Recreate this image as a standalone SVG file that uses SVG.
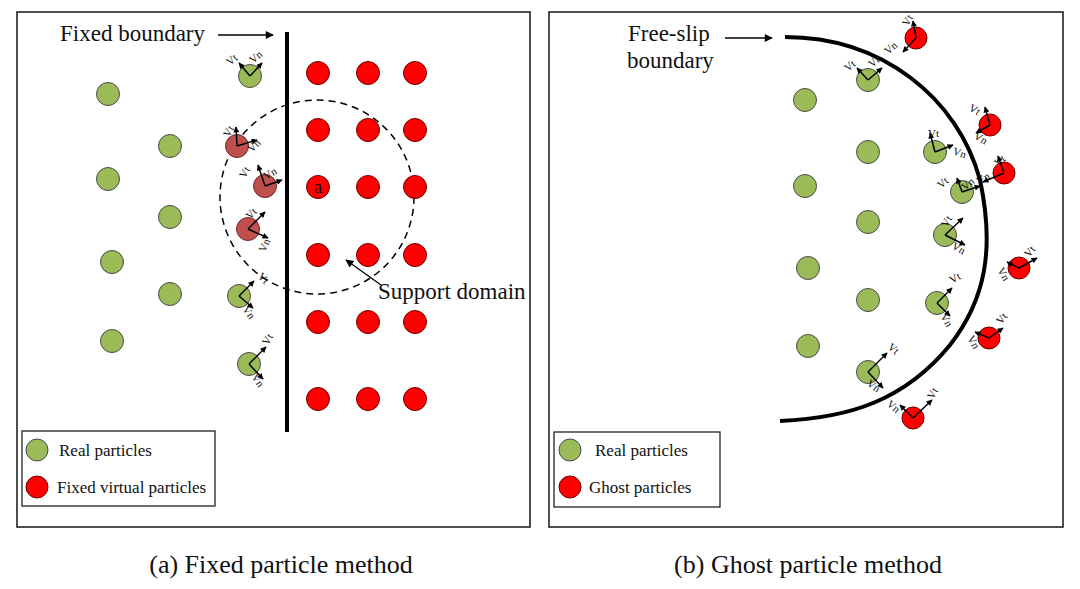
<svg xmlns="http://www.w3.org/2000/svg" width="1080" height="589" viewBox="0 0 1080 589">
<style>
.panel{fill:#fff;stroke:#222;stroke-width:1.6}
.g{fill:#9bbb59;stroke:#4a4a4a;stroke-width:1}
.r{fill:#ff0000;stroke:#6a0000;stroke-width:1}
.b{fill:#c0504d;stroke:#6a2a28;stroke-width:1}
.t{font-family:"Liberation Serif",serif;fill:#111}
.lbl{font-size:23px}
.leg{font-size:17px}
.cap{font-size:26px}
.v{font-family:"Liberation Serif",serif;font-size:11px;fill:#111}
.vec{stroke:#000;stroke-width:1.5;fill:none;marker-end:url(#ah)}
.ptr{stroke:#000;stroke-width:1.3;fill:none;marker-end:url(#ah2)}
.bd{stroke:#000;stroke-width:4;fill:none}
</style>
<defs>
<marker id="ah" viewBox="0 0 10 10" refX="9" refY="5" markerWidth="7" markerHeight="6" markerUnits="userSpaceOnUse" orient="auto"><path d="M0,0 L10,5 L0,10 z" fill="#000"/></marker>
<marker id="ah2" viewBox="0 0 10 10" refX="9" refY="5" markerWidth="9" markerHeight="8" markerUnits="userSpaceOnUse" orient="auto"><path d="M0,0 L10,5 L0,10 z" fill="#000"/></marker>
</defs>
<rect width="1080" height="589" fill="#fff"/>
<rect class="panel" x="17" y="12" width="513" height="515"/>
<rect class="panel" x="549" y="12" width="514" height="515"/>

<!-- Left panel -->
<g id="fixed-boundary">
<line class="bd" x1="287" y1="32" x2="287" y2="432"/>
<text class="t lbl" x="60" y="41">Fixed boundary</text>
</g>
<g id="support-domain">
<circle cx="317" cy="197" r="97" fill="none" stroke="#000" stroke-width="1.5" stroke-dasharray="7,5"/>
<text class="t lbl" x="378" y="299">Support domain</text>
</g>
<g id="virtual-particles">
<circle class="r" cx="318" cy="73" r="11.5"/><circle class="r" cx="368" cy="73" r="11.5"/><circle class="r" cx="415" cy="73" r="11.5"/>
<circle class="r" cx="318" cy="130" r="11.5"/><circle class="r" cx="368" cy="130" r="11.5"/><circle class="r" cx="415" cy="130" r="11.5"/>
<circle class="r" cx="318" cy="187" r="11.5"/><circle class="r" cx="368" cy="187" r="11.5"/><circle class="r" cx="415" cy="187" r="11.5"/>
<circle class="r" cx="318" cy="255" r="11.5"/><circle class="r" cx="368" cy="255" r="11.5"/><circle class="r" cx="415" cy="255" r="11.5"/>
<circle class="r" cx="318" cy="322" r="11.5"/><circle class="r" cx="368" cy="322" r="11.5"/><circle class="r" cx="415" cy="322" r="11.5"/>
<circle class="r" cx="318" cy="399" r="11.5"/><circle class="r" cx="368" cy="399" r="11.5"/><circle class="r" cx="415" cy="399" r="11.5"/>
<text class="t" x="318" y="193" font-size="19" text-anchor="middle">a</text>
</g>
<g id="real-particles-left">
<circle class="g" cx="108" cy="94" r="11.5"/><circle class="g" cx="108" cy="179" r="11.5"/>
<circle class="g" cx="112" cy="262" r="11.5"/><circle class="g" cx="112" cy="341" r="11.5"/>
<circle class="g" cx="170" cy="146" r="11.5"/><circle class="g" cx="170" cy="217" r="11.5"/><circle class="g" cx="170" cy="294" r="11.5"/>
<circle class="g" cx="250" cy="76" r="11.5"/><circle class="g" cx="239" cy="296" r="11.5"/><circle class="g" cx="249" cy="364" r="11.5"/>
<circle class="b" cx="237" cy="146" r="11.5"/><circle class="b" cx="265" cy="186" r="11.5"/><circle class="b" cx="248" cy="229" r="11.5"/>
</g>
<g id="vectors-left">
<line class="vec" x1="250" y1="76" x2="239" y2="63"/><line class="vec" x1="250" y1="76" x2="262" y2="63"/>
<text class="v" transform="translate(230,66) rotate(-40)">Vt</text><text class="v" transform="translate(253,64) rotate(-40)">Vn</text>
<line class="vec" x1="237" y1="146" x2="236" y2="127"/><line class="vec" x1="237" y1="146" x2="257" y2="140"/>
<text class="v" transform="translate(229,138) rotate(-60)">Vt</text><text class="v" transform="translate(252,153) rotate(-45)">Vn</text>
<line class="vec" x1="265" y1="186" x2="258" y2="165"/><line class="vec" x1="265" y1="186" x2="282" y2="180"/>
<text class="v" transform="translate(245,179) rotate(-60)">Vt</text><text class="v" transform="translate(266,180) rotate(-30)">Vn</text>
<line class="vec" x1="248" y1="229" x2="265" y2="212"/><line class="vec" x1="248" y1="229" x2="268" y2="238"/>
<text class="v" transform="translate(250,220) rotate(-45)">Vt</text><text class="v" transform="translate(265,253) rotate(-65)">Vn</text>
<line class="vec" x1="239" y1="296" x2="254" y2="281"/><line class="vec" x1="239" y1="296" x2="253" y2="308"/>
<text class="v" transform="translate(257,277) rotate(45)">Vt</text><text class="v" transform="translate(242,309) rotate(55)">Vn</text>
<line class="vec" x1="249" y1="364" x2="266" y2="347"/><line class="vec" x1="249" y1="364" x2="263" y2="379"/>
<text class="v" transform="translate(268,346) rotate(-60)">Vt</text><text class="v" transform="translate(251,377) rotate(55)">Vn</text>
</g>
<g id="connectors">
<line class="ptr" x1="218" y1="35" x2="273" y2="35"/>
<line class="ptr" x1="381" y1="285" x2="346" y2="260"/>
<line class="ptr" x1="725" y1="38" x2="772" y2="38"/>
</g>
<g id="legend-left">
<rect x="22" y="431" width="193" height="75" fill="#fff" stroke="#222" stroke-width="1.3"/>
<circle class="g" cx="37" cy="450" r="11"/>
<text class="t leg" x="59" y="456">Real particles</text>
<circle class="r" cx="37" cy="487" r="11"/>
<text class="t leg" x="57" y="493">Fixed virtual particles</text>
</g>
<text class="t cap" x="281" y="573" text-anchor="middle">(a) Fixed particle method</text>

<!-- Right panel -->
<g id="free-slip-boundary">
<path class="bd" d="M785,37 C882,37 958,98 980,180 C995,250 985,300 950,345 C905,400 850,418 780,421"/>
<text class="t lbl" x="628" y="41">Free-slip</text>
<text class="t lbl" x="627" y="68">boundary</text>
</g>
<g id="real-particles-right">
<circle class="g" cx="805" cy="100" r="11.5"/><circle class="g" cx="805" cy="186" r="11.5"/>
<circle class="g" cx="808" cy="268" r="11.5"/><circle class="g" cx="808" cy="346" r="11.5"/>
<circle class="g" cx="868" cy="80" r="11.5"/><circle class="g" cx="868" cy="152" r="11.5"/>
<circle class="g" cx="868" cy="222" r="11.5"/><circle class="g" cx="868" cy="300" r="11.5"/>
<circle class="g" cx="868" cy="372" r="11.5"/>
<circle class="g" cx="935" cy="152" r="11.5"/><circle class="g" cx="962" cy="192" r="11.5"/>
<circle class="g" cx="945" cy="235" r="11.5"/><circle class="g" cx="937" cy="303" r="11.5"/>
</g>
<g id="ghost-particles">
<circle class="r" cx="916" cy="38" r="11"/><circle class="r" cx="990" cy="125" r="11"/>
<circle class="r" cx="1004" cy="173" r="11"/><circle class="r" cx="1019" cy="268" r="11"/>
<circle class="r" cx="989" cy="338" r="11"/><circle class="r" cx="913" cy="418" r="11"/>
</g>
<g id="vectors-right">
<line class="vec" x1="916" y1="38" x2="913" y2="21"/><line class="vec" x1="916" y1="38" x2="903" y2="52"/>
<text class="v" transform="translate(908,27) rotate(-60)">Vt</text><text class="v" transform="translate(888,55) rotate(-40)">Vn</text>
<line class="vec" x1="868" y1="80" x2="857" y2="68"/><line class="vec" x1="868" y1="80" x2="882" y2="68"/>
<text class="v" transform="translate(848,72) rotate(-40)">Vt</text><text class="v" transform="translate(872,68) rotate(-40)">Vn</text>
<line class="vec" x1="990" y1="125" x2="985" y2="107"/><line class="vec" x1="990" y1="125" x2="976" y2="133"/>
<text class="v" transform="translate(968,110) rotate(30)">Vt</text><text class="v" transform="translate(973,138) rotate(30)">Vn</text>
<line class="vec" x1="935" y1="152" x2="930" y2="133"/><line class="vec" x1="935" y1="152" x2="953" y2="145"/>
<text class="v" x="928" y="137">Vt</text><text class="v" transform="translate(952,154) rotate(20)">Vn</text>
<line class="vec" x1="1004" y1="173" x2="998" y2="156"/><line class="vec" x1="1004" y1="173" x2="983" y2="182"/>
<text class="v" transform="translate(998,167) rotate(-40)">Vt</text><text class="v" transform="translate(979,185) rotate(-30)">Vn</text>
<line class="vec" x1="962" y1="192" x2="957" y2="178"/><line class="vec" x1="962" y1="192" x2="980" y2="186"/>
<text class="v" transform="translate(941,189) rotate(-40)">Vt</text><text class="v" transform="translate(965,191) rotate(-40)">Vn</text>
<line class="vec" x1="945" y1="235" x2="963" y2="218"/><line class="vec" x1="945" y1="235" x2="965" y2="245"/>
<text class="v" transform="translate(947,228) rotate(-60)">Vt</text><text class="v" transform="translate(951,248) rotate(30)">Vn</text>
<line class="vec" x1="1019" y1="268" x2="1037" y2="258"/><line class="vec" x1="1019" y1="268" x2="1007" y2="262"/>
<text class="v" transform="translate(1029,258) rotate(-50)">Vt</text><text class="v" transform="translate(997,270) rotate(60)">Vn</text>
<line class="vec" x1="937" y1="303" x2="952" y2="288"/><line class="vec" x1="937" y1="303" x2="950" y2="316"/>
<text class="v" transform="translate(952,284) rotate(-30)">Vt</text><text class="v" transform="translate(940,316) rotate(60)">Vn</text>
<line class="vec" x1="989" y1="338" x2="1003" y2="328"/><line class="vec" x1="989" y1="338" x2="975" y2="332"/>
<text class="v" transform="translate(1001,325) rotate(-50)">Vt</text><text class="v" transform="translate(967,338) rotate(60)">Vn</text>
<line class="vec" x1="868" y1="372" x2="887" y2="353"/><line class="vec" x1="868" y1="372" x2="883" y2="388"/>
<text class="v" transform="translate(887,348) rotate(40)">Vt</text><text class="v" transform="translate(866,385) rotate(35)">Vn</text>
<line class="vec" x1="913" y1="418" x2="932" y2="400"/><line class="vec" x1="913" y1="418" x2="900" y2="405"/>
<text class="v" transform="translate(933,400) rotate(-60)">Vt</text><text class="v" transform="translate(886,405) rotate(40)">Vn</text>
</g>
<g id="legend-right">
<rect x="554" y="432" width="166" height="75" fill="#fff" stroke="#222" stroke-width="1.3"/>
<circle class="g" cx="570" cy="450" r="11"/>
<text class="t leg" x="595" y="456">Real particles</text>
<circle class="r" cx="570" cy="487" r="11"/>
<text class="t leg" x="589" y="493">Ghost particles</text>
</g>
<text class="t cap" x="808" y="573" text-anchor="middle">(b) Ghost particle method</text>
</svg>
